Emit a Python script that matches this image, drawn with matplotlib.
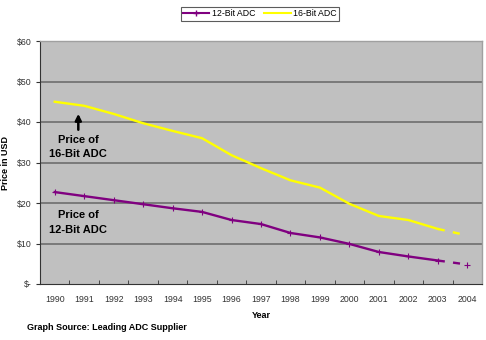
import matplotlib
matplotlib.use("Agg")
import matplotlib.pyplot as plt
import numpy as np

years = ["1990", "1991", "1992", "1993", "1994", "1995", "1996", "1997",
         "1998", "1999", "2000", "2001", "2002", "2003", "2004"]
price_12bit = [22.7, 21.7, 20.7, 19.7, 18.7, 17.8, 15.8, 14.8, 12.6, 11.5, 9.9, 7.9, 6.8, 5.8, 4.8]
price_16bit = [45, 44, 42, 39.7, 37.8, 36, 31.8, 28.6, 25.6, 23.8, 19.8, 16.8, 15.8, 13.6, 12]
series_names = ["12-Bit ADC", "16-Bit ADC"]
ytick_vals = [0, 10, 20, 30, 40, 50, 60]
ytick_labels = ["$-", "$10", "$20", "$30", "$40", "$50", "$60"]

plt.rcParams['font.family'] = ['Liberation Sans', 'DejaVu Sans']

fig = plt.figure(figsize=(4.86, 3.40), dpi=100)
ax = fig.add_axes([40/486, 1-284/340, 442/486, 243/340])
ax.set_facecolor("#c0c0c0")

x = np.arange(len(years))
purple = "#800080"
yellow = "#ffff00"
n = len(years) - 1  # last point is projection
lw = 1.7

ax.plot(x[:n], price_12bit[:n], color=purple, lw=lw, marker='+', ms=4, mew=0.8, zorder=3)
ax.plot(x[n-1:], price_12bit[n-1:], color=purple, lw=lw, ls=(0, (3, 3.5)), zorder=3)
ax.plot(x[n:], price_12bit[n:], color=purple, lw=0, marker='+', ms=4, mew=0.8, zorder=3)
ax.plot(x[:n], price_16bit[:n], color=yellow, lw=lw, zorder=3)
ax.plot(x[n-1:], price_16bit[n-1:], color=yellow, lw=lw, ls=(0, (3, 3.5)), zorder=3)

ax.set_xlim(-0.5, len(years) - 0.5)
ax.set_ylim(0, 60)
ax.set_yticks(ytick_vals)
ax.set_yticklabels(ytick_labels)
ax.set_xticks(x)
ax.set_xticklabels(years)
ax.set_xticks(np.arange(-0.5, len(years)), minor=True)
ax.tick_params(axis='x', which='major', length=0, labelsize=6.3, colors="#333333", pad=8)
ax.tick_params(axis='x', which='minor', length=3, direction='in', color="#333333")
ax.tick_params(axis='y', length=3, direction='out', labelsize=6.3, colors="#333333", pad=3)

for v in ytick_vals[1:-1]:
    ax.axhline(v, color="#6e6e6e", lw=1.2, zorder=1)

for s in ["top", "right"]:
    ax.spines[s].set_color("#a0a0a0")
    ax.spines[s].set_linewidth(1.0)
ax.spines["left"].set_color("#333333")
ax.spines["bottom"].set_color("#333333")
ax.spines["left"].set_linewidth(0.8)
ax.spines["bottom"].set_linewidth(0.8)

ax.set_ylabel("Price in USD", fontsize=6.5, fontweight='bold', labelpad=5)
ax.set_xlabel("Year", fontsize=6.5, fontweight='bold', labelpad=5)

ax.text(0.8, 33.9, "Price of\n16-Bit ADC", ha='center', va='center', fontsize=8,
        fontweight='bold', linespacing=1.55)
ax.annotate("", xy=(0.8, 42.7), xytext=(0.8, 37.4),
            arrowprops=dict(arrowstyle='-|>', color='black', lw=1.8, mutation_scale=9))
ax.text(0.8, 15.2, "Price of\n12-Bit ADC", ha='center', va='center', fontsize=8,
        fontweight='bold', linespacing=1.55)

fig.text(27/486, 1-327/340, "Graph Source: Leading ADC Supplier", fontsize=6.5,
         fontweight='bold', ha='left', va='center')

handles = [plt.Line2D([], [], color=purple, lw=1.5, marker='+', ms=4),
           plt.Line2D([], [], color=yellow, lw=1.5)]
leg = fig.legend(handles=handles, labels=series_names,
                 loc='center', bbox_to_anchor=(260/486, 1-14/340), ncol=2,
                 fontsize=6.3, frameon=True, fancybox=False, edgecolor="#333333",
                 handlelength=3, columnspacing=1.0, handletextpad=0.3,
                 borderpad=0.3, borderaxespad=0)
leg.get_frame().set_linewidth(0.8)

fig.savefig("out.png", dpi=100)
